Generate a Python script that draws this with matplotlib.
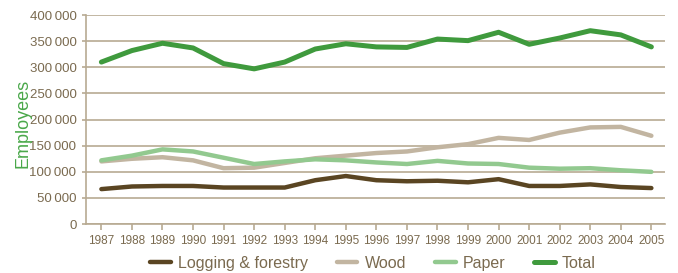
import matplotlib
matplotlib.use("Agg")
import matplotlib.pyplot as plt

plt.rcParams['font.family'] = ['Liberation Sans Narrow', 'Liberation Sans', 'DejaVu Sans']

years = list(range(1987, 2006))
logging = [67000, 72000, 73000, 73000, 70000, 70000, 70000, 84000, 92000, 84000,
           82000, 83000, 80000, 86000, 73000, 73000, 76000, 71000, 69000]
wood = [120000, 125000, 128000, 122000, 107000, 108000, 117000, 126000, 131000, 136000,
        139000, 147000, 153000, 165000, 161000, 175000, 185000, 186000, 169000]
paper = [122000, 131000, 143000, 139000, 127000, 115000, 120000, 124000, 122000, 118000,
         115000, 121000, 116000, 115000, 108000, 106000, 107000, 103000, 100000]
total = [310000, 332000, 346000, 337000, 307000, 297000, 310000, 335000, 345000, 339000,
         338000, 354000, 351000, 367000, 344000, 356000, 370000, 362000, 339000]
yticks = list(range(0, 400001, 50000))

txt = '#7a6a4f'
grid = '#b8aa92'

fig = plt.figure(figsize=(6.78, 2.73), dpi=100)
ax = fig.add_axes([0.127, 0.179, 0.854, 0.766])

ax.plot(years, logging, color='#5a4522', lw=3.2, label='Logging & forestry', solid_capstyle='round')
ax.plot(years, wood, color='#c2b5a1', lw=3.2, label='Wood', solid_capstyle='round')
ax.plot(years, paper, color='#92c98f', lw=3.2, label='Paper', solid_capstyle='round')
ax.plot(years, total, color='#3f9a3d', lw=3.6, label='Total', solid_capstyle='round')

ax.set_xlim(1986.5, 2005.45)
ax.set_ylim(0, 400000)
ax.set_yticks(yticks)
ax.set_yticklabels(['0'] + ['%d\u2009000' % (v // 1000) for v in yticks[1:]])
ax.set_xticks(years)
ax.grid(axis='y', color=grid, lw=1.2)
ax.set_axisbelow(True)
for s in ['top', 'right']:
    ax.spines[s].set_visible(False)
for s in ['left', 'bottom']:
    ax.spines[s].set_color(grid)
    ax.spines[s].set_linewidth(1.2)
ax.tick_params(axis='y', length=3, color=grid, width=1.2, colors=txt, labelsize=9.5, pad=4)
ax.tick_params(axis='x', length=4, color=grid, width=1.2, colors=txt, labelsize=8.5, pad=4)
ax.set_ylabel('Employees', color='#4aa84a', fontsize=13)
ax.yaxis.set_label_coords(-0.094, 0.48)

fig.legend(loc='center', bbox_to_anchor=(0.55, 0.035), ncol=4, frameon=False,
           fontsize=11.5, labelcolor=txt, handlelength=1.3, columnspacing=1.8,
           handletextpad=0.45, borderpad=0)

fig.savefig('out.png', dpi=100)
